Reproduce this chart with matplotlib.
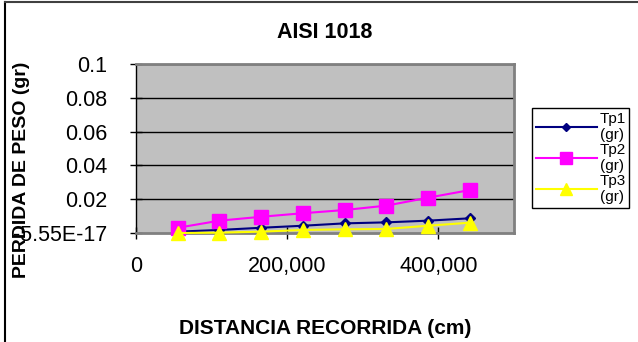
import matplotlib.pyplot as plt
from matplotlib.lines import Line2D

plt.rcParams['font.family'] = ['Liberation Sans', 'DejaVu Sans']

# distancia recorrida (cm) y perdida de peso (gr) para cada probeta
distancia = [55200, 110400, 165600, 220800, 276000, 331200, 386400, 441600]
tp1 = [0.0008, 0.0018, 0.0031, 0.0043, 0.0057, 0.0063, 0.0073, 0.0087]
tp2 = [0.0031, 0.0073, 0.0096, 0.0117, 0.0136, 0.0162, 0.0209, 0.0254]
tp3 = [0.0000, 0.0002, 0.0008, 0.0018, 0.0022, 0.0024, 0.0043, 0.0061]

yticks = [0, 0.02, 0.04, 0.06, 0.08, 0.1]
ytick_labels = ['-5.55E-17', '0.02', '0.04', '0.06', '0.08', '0.1']
xticks = [0, 200000, 400000]
xtick_labels = ['0', '200,000', '400,000']

fig = plt.figure(figsize=(6.38, 3.42), dpi=100)
ax = fig.add_axes([136/638, 1 - 233/342, 378/638, 169/342])
ax.set_facecolor('#C0C0C0')

ax.plot(distancia, tp1, color='#000080', marker='D', markersize=5, lw=1.5, label='Tp1\n(gr)', clip_on=False, zorder=3)
ax.plot(distancia, tp2, color='#FF00FF', marker='s', markersize=10, lw=1.5, label='Tp2\n(gr)', clip_on=False, zorder=3)
ax.plot(distancia, tp3, color='#FFFF00', marker='^', markersize=10, lw=1.5, label='Tp3\n(gr)', clip_on=False, zorder=4)

ax.set_xlim(0, 500000)
ax.set_ylim(0, 0.1)
ax.set_yticks(yticks)
ax.set_yticklabels(ytick_labels)
ax.set_xticks(xticks)
ax.set_xticklabels(xtick_labels)
ax.tick_params(axis='both', labelsize=15.5, direction='inout', length=9, width=1, color='black')
ax.tick_params(axis='x', pad=12)
ax.tick_params(axis='y', pad=16)

for y in yticks[1:]:
    ax.axhline(y, color='black', lw=1, zorder=1)

for side in ['top', 'right', 'bottom']:
    ax.spines[side].set_color('#808080')
    ax.spines[side].set_linewidth(2)
ax.spines['left'].set_color('black')
ax.spines['left'].set_linewidth(1)

ax.set_title('AISI 1018', fontsize=15.5, fontweight='bold', pad=19)
ax.set_xlabel('DISTANCIA RECORRIDA (cm)', fontsize=15, fontweight='bold', labelpad=30)
fig.text(22/638, 1 - 170/342, 'PERDIDA DE PESO (gr)', rotation=90, fontsize=14,
         fontweight='bold', ha='center', va='center')

leg = fig.legend(loc='upper left', bbox_to_anchor=(532/638, 1 - 108/342),
                 borderaxespad=0, fontsize=11, handlelength=4.0, labelspacing=0.05,
                 borderpad=0.25, handletextpad=0.15, fancybox=False,
                 edgecolor='black', framealpha=1, markerscale=0.8)
leg.get_frame().set_linewidth(1)
for t in leg.get_texts():
    t.set_multialignment('center')

# marco exterior del grafico
fig.add_artist(Line2D([5/638, 5/638], [0, 1 - 1.5/342], color='black', lw=1.5, transform=fig.transFigure))
fig.add_artist(Line2D([5/638, 1], [1 - 1.5/342, 1 - 1.5/342], color='#404040', lw=1.5, transform=fig.transFigure))

fig.savefig('out.png', dpi=100)
